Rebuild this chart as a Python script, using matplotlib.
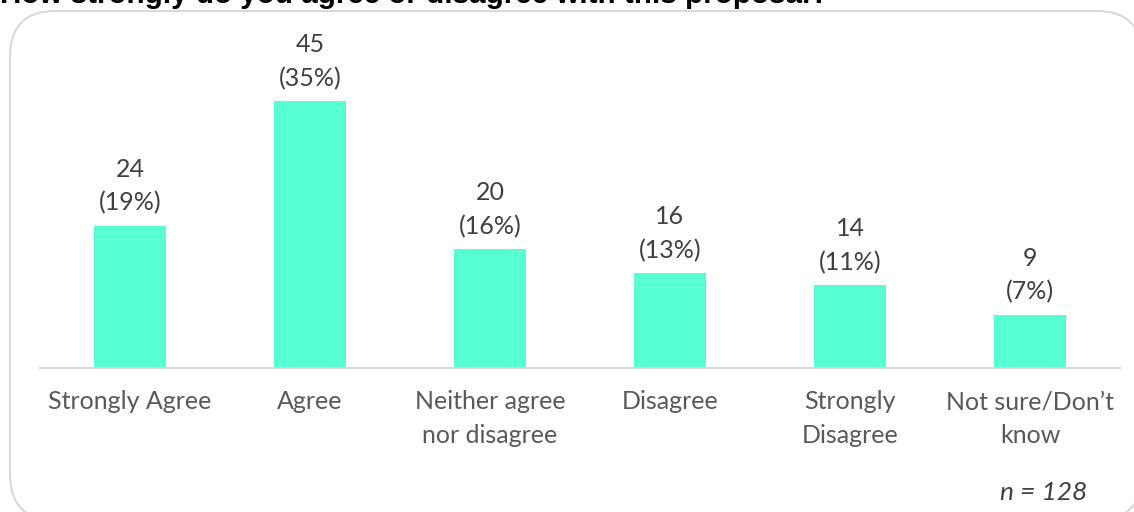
import matplotlib.pyplot as plt
from matplotlib.patches import FancyBboxPatch

categories = ['Strongly Agree', 'Agree', 'Neither agree\nnor disagree',
              'Disagree', 'Strongly\nDisagree', 'Not sure/Don\u2019t\nknow']
counts = [24, 45, 20, 16, 14, 9]
percents = [19, 35, 16, 13, 11, 7]
n_total = 128

W, H = 1134, 512
fig = plt.figure(figsize=(W / 100, H / 100), dpi=100)
plt.rcParams['font.family'] = ['Lato', 'DejaVu Sans']

# rounded card behind the chart
card = FancyBboxPatch((10 / W, 1 - 520 / H), 1132 / W, 509 / H,
                      boxstyle='round,pad=0,rounding_size=0.04',
                      transform=fig.transFigure, facecolor='white',
                      edgecolor='#d9d9d9', linewidth=1.5,
                      mutation_aspect=W / H, zorder=-1)
fig.patches.append(card)

fig.text(0, 1 - 3 / H, 'How strongly do you agree or disagree with this proposal?',
         fontsize=21.3, fontweight='bold', family='Liberation Sans',
         color='#000000', va='baseline', ha='left')

# axes: baseline at y=368px, 40..1120px wide
ax = fig.add_axes([40 / W, (H - 368) / H, 1080 / W, 326 / H])
ax.set_facecolor('none')
x = list(range(len(categories)))
ax.bar(x, counts, width=0.4, color='#57FFD2', zorder=2)
ax.set_xlim(-0.5, 5.5)
ax.set_ylim(0, 55)

for xi, c, p in zip(x, counts, percents):
    ax.annotate(f'{c}\n({p}%)', (xi, c), xytext=(0, 8), textcoords='offset points',
                ha='center', va='bottom', fontsize=18, color='#404040',
                linespacing=1.55)

for s in ['top', 'right', 'left']:
    ax.spines[s].set_visible(False)
ax.spines['bottom'].set_color('#d9d9d9')
ax.spines['bottom'].set_linewidth(1.5)
ax.set_yticks([])
ax.set_xticks(x)
ax.set_xticklabels(categories, fontsize=18, color='#595959', linespacing=1.55)
ax.tick_params(axis='x', length=0, pad=16)

fig.text(1000 / W, 1 - 492 / H, f'n = {n_total}', fontsize=19, style='italic',
         color='#404040', ha='left', va='center')

fig.savefig('out.png', dpi=100)
